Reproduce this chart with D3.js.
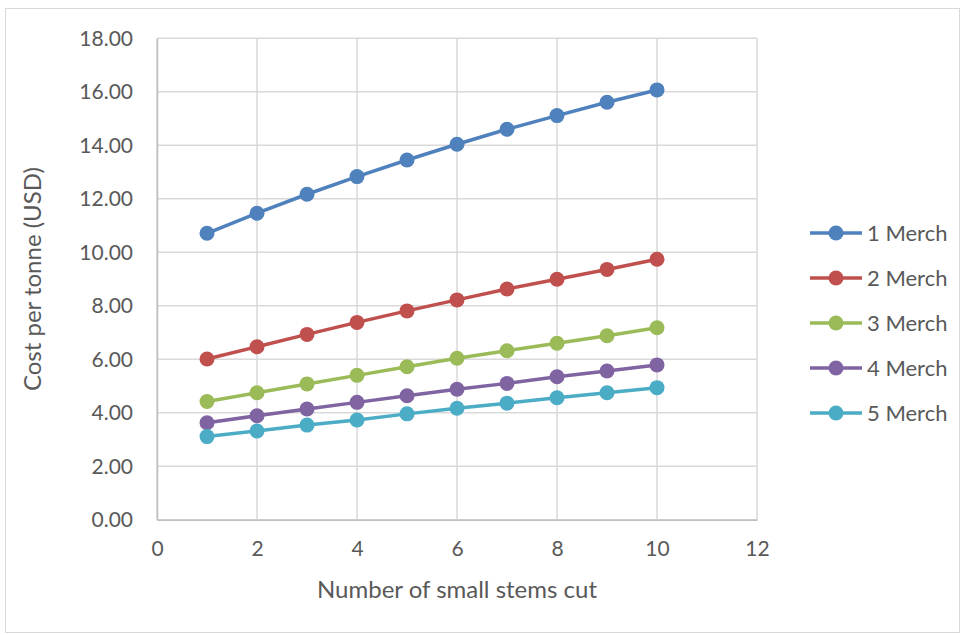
<!DOCTYPE html>
<html>
<head>
<meta charset="utf-8">
<script src="https://cdn.jsdelivr.net/npm/d3@7"></script>
<style>
  body { margin: 0; background: #fff; }
  svg { display: block; }
  text { font-family: Lato, "Open Sans", sans-serif; fill: #595959; }
</style>
</head>
<body>
<svg id="chart" width="964" height="635"></svg>
<script>
// Stems cut per cycle
const stems = [1, 2, 3, 4, 5, 6, 7, 8, 9, 10];

// Cost per tonne (USD) for each merchandisable-stem count
const merch1 = [10.71, 11.46, 12.17, 12.83, 13.45, 14.04, 14.60, 15.11, 15.61, 16.07];
const merch2 = [6.01, 6.47, 6.93, 7.38, 7.81, 8.22, 8.63, 8.99, 9.36, 9.74];
const merch3 = [4.42, 4.75, 5.08, 5.40, 5.72, 6.04, 6.32, 6.60, 6.88, 7.18];
const merch4 = [3.63, 3.89, 4.14, 4.39, 4.64, 4.88, 5.10, 5.35, 5.56, 5.79];
const merch5 = [3.11, 3.32, 3.54, 3.73, 3.96, 4.17, 4.36, 4.56, 4.75, 4.94];

const seriesNames = ["1 Merch", "2 Merch", "3 Merch", "4 Merch", "5 Merch"];
const seriesValues = [merch1, merch2, merch3, merch4, merch5];
const seriesColors = ["#4F81BD", "#C0504D", "#9BBB59", "#8064A2", "#4BACC6"];

const xTicks = [0, 2, 4, 6, 8, 10, 12];
const yTicks = [0, 2, 4, 6, 8, 10, 12, 14, 16, 18];

const svg = d3.select("#chart");

// chart frame
svg.append("rect")
  .attr("x", 5.5).attr("y", 8.5)
  .attr("width", 954).attr("height", 624)
  .attr("fill", "#fff").attr("stroke", "#d9d9d9").attr("stroke-width", 1);

const plot = { left: 157, right: 757, top: 38.3, bottom: 519.8 };

const x = d3.scaleLinear().domain([0, 12]).range([plot.left, plot.right]);
const y = d3.scaleLinear().domain([0, 18]).range([plot.bottom, plot.top]);

// gridlines
const grid = svg.append("g");
grid.selectAll("line.h").data(yTicks).join("line")
  .attr("x1", plot.left).attr("x2", plot.right)
  .attr("y1", d => y(d)).attr("y2", d => y(d))
  .attr("stroke", "#d9d9d9").attr("stroke-width", 1.5);
grid.selectAll("line.v").data(xTicks).join("line")
  .attr("x1", d => x(d)).attr("x2", d => x(d))
  .attr("y1", plot.top).attr("y2", plot.bottom)
  .attr("stroke", "#d9d9d9").attr("stroke-width", 1.5);

// axes
const xAxis = svg.append("g")
  .attr("transform", `translate(0,${plot.bottom})`)
  .call(d3.axisBottom(x).tickValues(xTicks).tickSize(0).tickPadding(21).tickFormat(d3.format("d")));
xAxis.select(".domain").attr("stroke", "#bfbfbf").attr("stroke-width", 1.5);
xAxis.selectAll("text").style("font-size", "21px").attr("fill", "#595959");

const yAxis = svg.append("g")
  .attr("transform", `translate(${plot.left},0)`)
  .call(d3.axisLeft(y).tickValues(yTicks).tickSize(0).tickPadding(24).tickFormat(d3.format(".2f")));
yAxis.select(".domain").attr("stroke", "#bfbfbf").attr("stroke-width", 1.5);
yAxis.selectAll("text").style("font-size", "21px").attr("fill", "#595959");

// axis titles
svg.append("text")
  .attr("x", (plot.left + plot.right) / 2).attr("y", 598)
  .attr("text-anchor", "middle")
  .style("font-size", "24px")
  .text("Number of small stems cut");

svg.append("text")
  .attr("transform", `translate(41,${(plot.top + plot.bottom) / 2}) rotate(-90)`)
  .attr("text-anchor", "middle")
  .style("font-size", "24px")
  .text("Cost per tonne (USD)");

// series lines and markers
const line = d3.line().x((d, i) => x(stems[i])).y(d => y(d));

seriesValues.forEach((vals, s) => {
  const g = svg.append("g");
  g.append("path")
    .datum(vals)
    .attr("d", line)
    .attr("fill", "none")
    .attr("stroke", seriesColors[s])
    .attr("stroke-width", 3.5)
    .attr("stroke-linejoin", "round");
  g.selectAll("circle").data(vals).join("circle")
    .attr("cx", (d, i) => x(stems[i]))
    .attr("cy", d => y(d))
    .attr("r", 7.5)
    .attr("fill", seriesColors[s]);
});

// legend
const legend = svg.append("g");
seriesNames.forEach((name, s) => {
  const ly = 233 + s * 45;
  legend.append("line")
    .attr("x1", 810).attr("x2", 862)
    .attr("y1", ly).attr("y2", ly)
    .attr("stroke", seriesColors[s]).attr("stroke-width", 3.5);
  legend.append("circle")
    .attr("cx", 836).attr("cy", ly).attr("r", 7.5)
    .attr("fill", seriesColors[s]);
  legend.append("text")
    .attr("x", 867).attr("y", ly)
    .attr("dy", "0.35em")
    .style("font-size", "22px")
    .text(name);
});
</script>
</body>
</html>
